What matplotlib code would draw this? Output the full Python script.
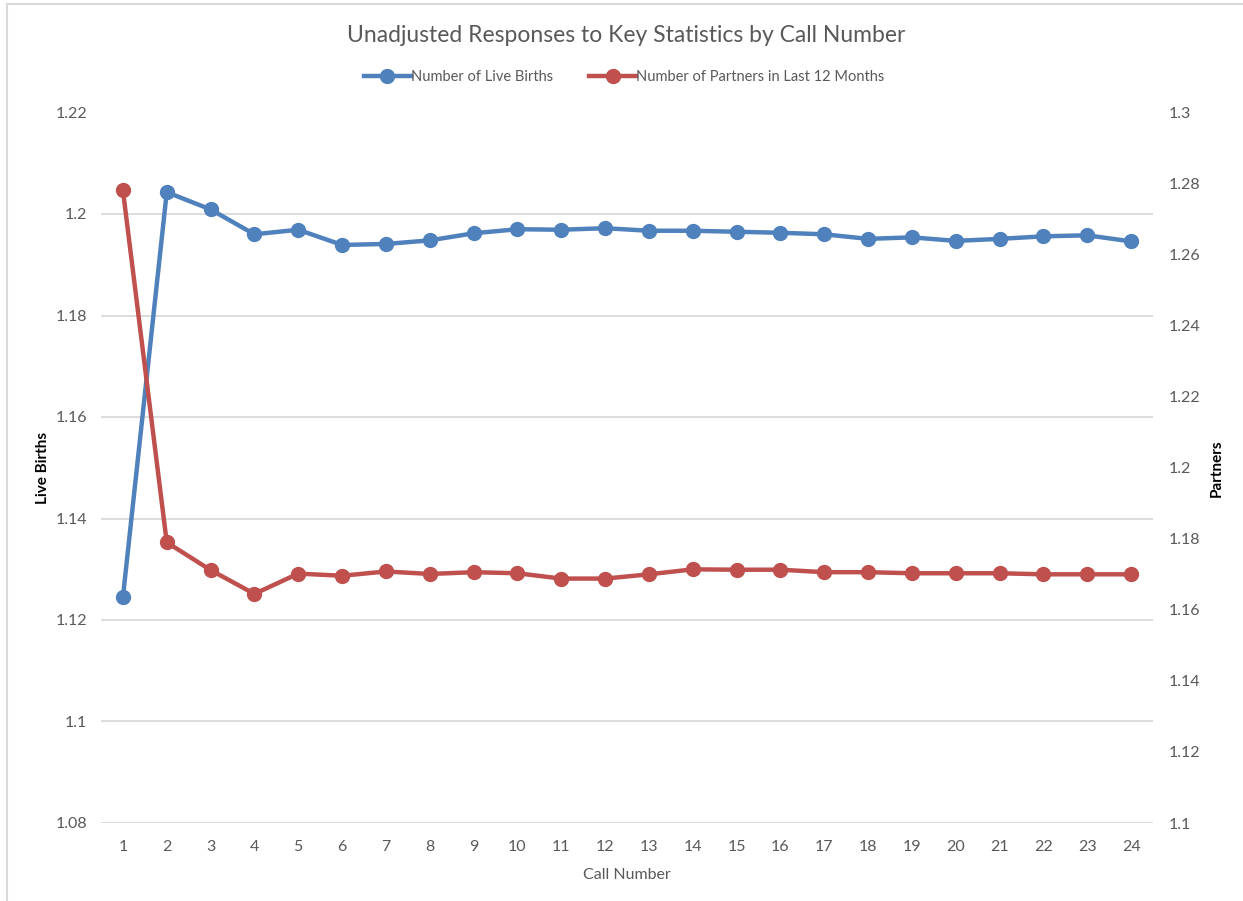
import matplotlib
matplotlib.use("Agg")
import matplotlib.pyplot as plt
from matplotlib.lines import Line2D

calls = list(range(1, 25))
live_births = [1.1245, 1.2043, 1.2009, 1.1960, 1.1969, 1.1939, 1.1941, 1.1948,
               1.1962, 1.1970, 1.1969, 1.1972, 1.1967, 1.1967, 1.1965, 1.1963,
               1.1960, 1.1951, 1.1954, 1.1947, 1.1951, 1.1956, 1.1958, 1.1946]
partners = [1.2781, 1.1790, 1.1712, 1.1645, 1.1702, 1.1696, 1.1708, 1.1701,
            1.1706, 1.1703, 1.1688, 1.1688, 1.1700, 1.1714, 1.1713, 1.1713,
            1.1706, 1.1706, 1.1703, 1.1703, 1.1703, 1.1700, 1.1700, 1.1700]
left_ticks = [1.08, 1.10, 1.12, 1.14, 1.16, 1.18, 1.20, 1.22]
left_labels = ["1.08", "1.1", "1.12", "1.14", "1.16", "1.18", "1.2", "1.22"]
right_ticks = [1.10, 1.12, 1.14, 1.16, 1.18, 1.20, 1.22, 1.24, 1.26, 1.28, 1.30]
right_labels = ["1.1", "1.12", "1.14", "1.16", "1.18", "1.2", "1.22", "1.24", "1.26", "1.28", "1.3"]

FONT = ["Lato", "DejaVu Sans"]
plt.rcParams["font.family"] = FONT
GRAY = "#595959"
BLUE = "#4F81BD"
RED = "#C0504D"
GRID = "#D9D9D9"

W, H = 1243, 901
fig = plt.figure(figsize=(W / 100, H / 100), dpi=100)
ax = fig.add_axes([101 / W, 1 - 823 / H, (1153 - 101) / W, (823 - 112.5) / H])
ax2 = ax.twinx()

ax.set_xlim(0.5, 24.5)
ax.set_ylim(1.08, 1.22)
ax2.set_ylim(1.10, 1.30)

ax.set_yticks(left_ticks)
ax.set_yticklabels(left_labels)
ax2.set_yticks(right_ticks)
ax2.set_yticklabels(right_labels)
ax.set_xticks(calls)
ax.set_xticklabels([str(c) for c in calls])

ax.grid(axis="y", color=GRID, linewidth=1.3)
ax.set_axisbelow(True)
for a in (ax, ax2):
    for s in a.spines.values():
        s.set_visible(False)
    a.tick_params(length=0, colors=GRAY, labelsize=11.5)
ax.tick_params(axis="y", pad=10)
ax2.tick_params(axis="y", pad=11)
ax.tick_params(axis="x", pad=12)

ax.plot(calls, live_births, color=BLUE, linewidth=3.2, marker="o",
        markersize=10, zorder=3)
ax2.plot(calls, partners, color=RED, linewidth=3.2, marker="o",
         markersize=10, zorder=3)

ax.set_ylabel("Live Births", fontsize=11, fontweight="bold", color="black")
ax2.set_ylabel("Partners", fontsize=11, fontweight="bold", color="black")
ax.yaxis.set_label_coords((50 - 101) / (1153 - 101), 0.5)
ax2.yaxis.set_label_coords((1210 - 101) / (1153 - 101), 0.5)
ax.set_xlabel("Call Number", fontsize=11.5, color=GRAY, labelpad=10)

fig.text(626 / W, 1 - 35 / H, "Unadjusted Responses to Key Statistics by Call Number",
         ha="center", va="center", fontsize=16.5, color=GRAY)

handles = [Line2D([], [], color=BLUE, linewidth=3.2, marker="o", markersize=10),
           Line2D([], [], color=RED, linewidth=3.2, marker="o", markersize=10)]
fig.legend(handles, ["Number of Live Births", "Number of Partners in Last 12 Months"],
           loc="center", bbox_to_anchor=(624 / W, 1 - 77 / H), ncol=2, frameon=False,
           fontsize=10.5, labelcolor=GRAY, handlelength=3.2, handletextpad=0.0,
           columnspacing=2.5)

# chart frame (left and top edges visible)
fig.add_artist(Line2D([6.5 / W, 6.5 / W], [0, 1 - 4 / H], transform=fig.transFigure,
                      color=GRID, linewidth=1.5))
fig.add_artist(Line2D([6.5 / W, 1], [1 - 4 / H, 1 - 4 / H], transform=fig.transFigure,
                      color=GRID, linewidth=1.5))

fig.savefig("out.png", dpi=100, facecolor="white")
